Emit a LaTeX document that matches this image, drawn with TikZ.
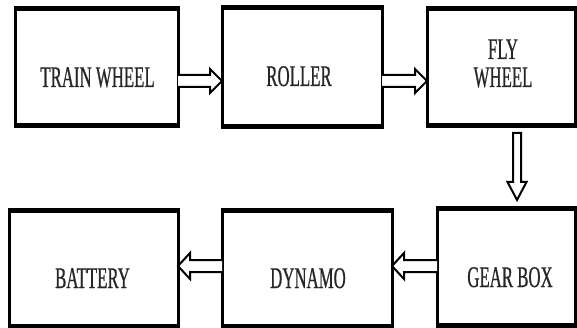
\documentclass[tikz,border=0pt]{standalone}
\usepackage{fontspec}
\newfontfamily\boxfont[FakeStretch=0.56,FakeBold=0.6]{Liberation Serif}
\begin{document}
\begin{tikzpicture}[x=1pt,y=-1pt,
  block/.style={draw=black, line width=3pt, fill=white, outer sep=0pt,
    inner sep=0pt, rectangle},
  rim/.style={line width=5pt, shorten <=-1.5pt, shorten >=-1.5pt},
  caption/.style={font=\boxfont\fontsize{30}{28}\selectfont, text=black!85,
    inner sep=0pt, anchor=base, align=center},
  flow/.style={draw=black, line width=2pt, fill=white, line join=miter}]
\useasboundingbox[fill=white] (0,0) rectangle (577,328);

% upper row
\node[block, minimum width=163pt, minimum height=117pt] (tw) at (96.5,67.5) {};
\node[block, minimum width=160pt, minimum height=119pt] (rl) at (302,67.5) {};
\node[block, minimum width=148pt, minimum height=117pt] (fw) at (501,67.5) {};
% lower row
\node[block, minimum width=169pt, minimum height=115pt] (bt) at (93.5,268.5) {};
\node[block, minimum width=170pt, minimum height=115pt] (dy) at (307,268.5) {};
\node[block, minimum width=138pt, minimum height=116pt] (gb) at (506,267) {};

% heavier top and bottom edges
\foreach \b in {tw,rl,fw,bt,dy,gb}{
  \draw[rim] (\b.north west) -- (\b.north east);
  \draw[rim] (\b.south west) -- (\b.south east);
}

% captions
\node[caption] (twl) at (97.5,87) {TRAIN WHEEL};
\node[caption] (rll) at (299,86) {ROLLER};
\node[caption] (fwl1) at (503,59) {FLY};
\node[caption] (fwl2) at (503,87) {WHEEL};
\node[caption] (btl) at (92.5,288) {BATTERY};
\node[caption] (dyl) at (308,288) {DYNAMO};
\node[caption] (gbl) at (510,287) {GEAR BOX};

% hollow arrows, left to right (centre line 13.5pt below the box centres)
\draw[flow] ([yshift=-7.5pt]tw.east) -- ([xshift=-12pt,yshift=-7.5pt]rl.west)
  -- ([xshift=-12pt,yshift=-1.5pt]rl.west) -- ([yshift=-13.5pt]rl.west)
  -- ([xshift=-12pt,yshift=-25.5pt]rl.west) -- ([xshift=-12pt,yshift=-19.5pt]rl.west)
  -- ([yshift=-19.5pt]tw.east);
\draw[flow] ([yshift=-7.5pt]rl.east) -- ([xshift=-12pt,yshift=-7.5pt]fw.west)
  -- ([xshift=-12pt,yshift=-1.5pt]fw.west) -- ([yshift=-13.5pt]fw.west)
  -- ([xshift=-12pt,yshift=-25.5pt]fw.west) -- ([xshift=-12pt,yshift=-19.5pt]fw.west)
  -- ([yshift=-19.5pt]rl.east);

% downward arrow
\draw[flow] ([xshift=12pt,yshift=-7pt]fw.south) -- ([xshift=7pt,yshift=27pt]gb.north)
  -- ([xshift=1.5pt,yshift=27pt]gb.north) -- ([xshift=11pt,yshift=9pt]gb.north)
  -- ([xshift=20.5pt,yshift=27pt]gb.north) -- ([xshift=15pt,yshift=27pt]gb.north)
  -- ([xshift=20pt,yshift=-7pt]fw.south) -- cycle;

% hollow arrows, right to left
\draw[flow] ([yshift=7pt]gb.west) -- ([xshift=12pt,yshift=8.5pt]dy.east)
  -- ([xshift=12pt,yshift=15.5pt]dy.east) -- ([yshift=2.5pt]dy.east)
  -- ([xshift=12pt,yshift=-10.5pt]dy.east) -- ([xshift=12pt,yshift=-3.5pt]dy.east)
  -- ([yshift=-5pt]gb.west);
\draw[flow] ([yshift=8.5pt]dy.west) -- ([xshift=12pt,yshift=8.5pt]bt.east)
  -- ([xshift=12pt,yshift=15.5pt]bt.east) -- ([yshift=2.5pt]bt.east)
  -- ([xshift=12pt,yshift=-10.5pt]bt.east) -- ([xshift=12pt,yshift=-3.5pt]bt.east)
  -- ([yshift=-3.5pt]dy.west);
\end{tikzpicture}
\end{document}
